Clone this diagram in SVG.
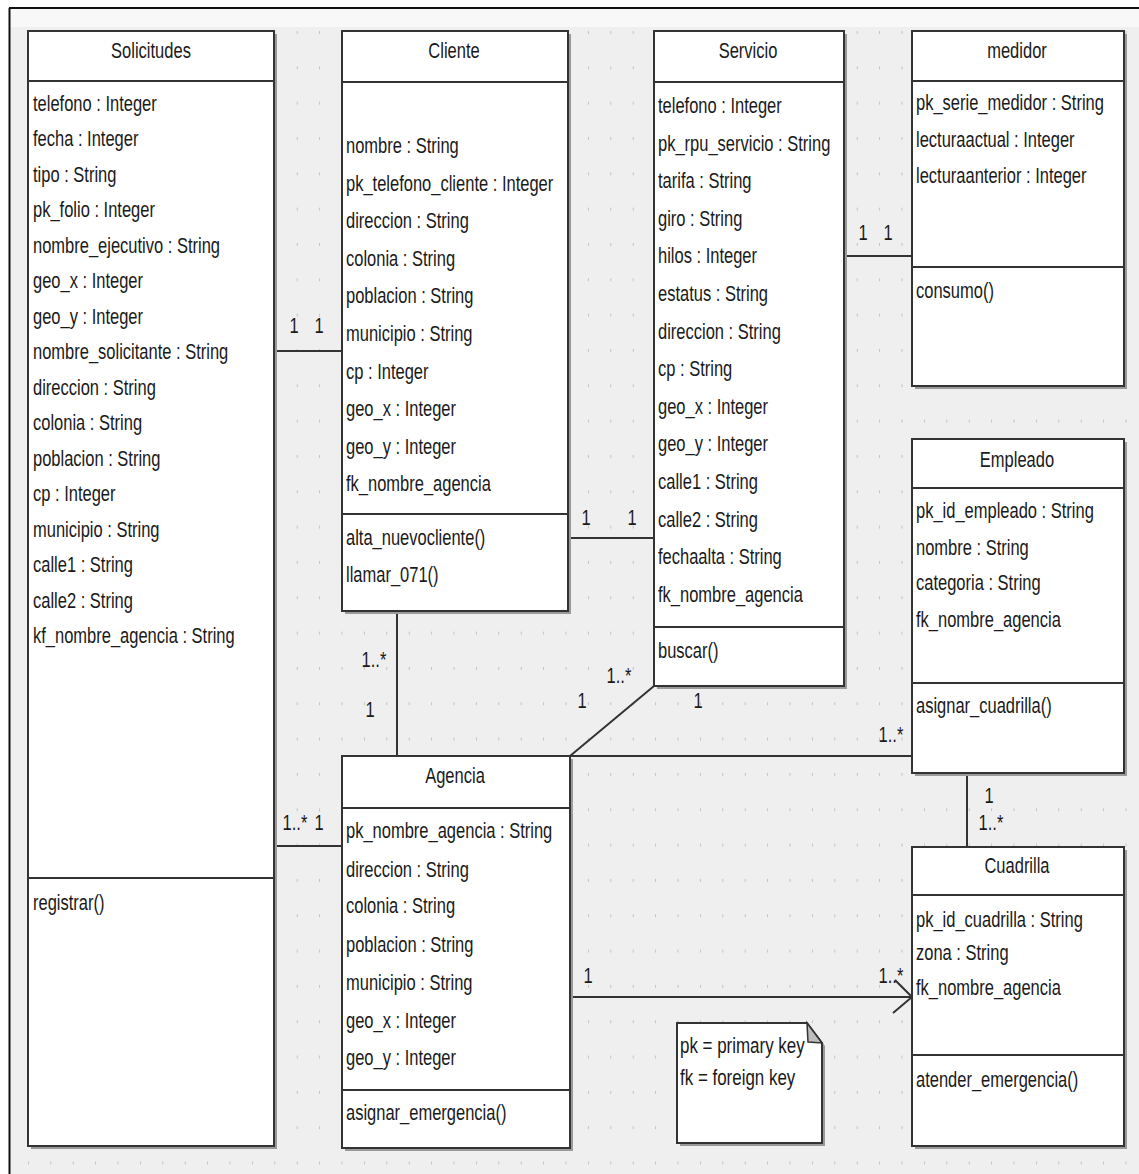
<svg xmlns="http://www.w3.org/2000/svg" width="1139" height="1174" viewBox="0 0 1139 1174">
<style>
text{font-family:"Liberation Sans",Arial,sans-serif;font-size:22px;fill:#1a1a1a}
.box{fill:#fff;stroke:#333;stroke-width:2}
.sh{fill:#9a9a9a}
.sep{stroke:#333;stroke-width:2}
.con{stroke:#333;stroke-width:2;fill:none}
.mid{text-anchor:middle}
</style>
<defs>
<pattern id="grid" x="5.5" y="31" width="22.4" height="35.33" patternUnits="userSpaceOnUse">
<rect x="0" y="0" width="1" height="3" fill="#c2c2c2"/>
</pattern>
</defs>
<rect x="0" y="0" width="1139" height="1174" fill="#fff"/>
<rect x="10" y="9" width="1129" height="1165" fill="#efefef"/>
<rect x="10" y="9" width="1129" height="18" fill="#f8f8f8"/>
<rect x="10" y="27" width="1129" height="1147" fill="url(#grid)"/>
<line x1="9.5" y1="8" x2="9.5" y2="1174" stroke="#111" stroke-width="2"/>
<line x1="9" y1="8" x2="1139" y2="8" stroke="#111" stroke-width="2"/>

<g id="connectors">
<line class="con" x1="274" y1="351" x2="342" y2="351"/>
<line class="con" x1="844" y1="256" x2="912" y2="256"/>
<line class="con" x1="568" y1="538" x2="654" y2="538"/>
<line class="con" x1="397" y1="611" x2="397" y2="756"/>
<line class="con" x1="570" y1="756" x2="654" y2="686"/>
<line class="con" x1="570" y1="756" x2="912" y2="756"/>
<line class="con" x1="967" y1="773" x2="967" y2="847"/>
<line class="con" x1="274" y1="846" x2="342" y2="846"/>
<line class="con" x1="570" y1="997" x2="912" y2="997"/>
<polyline class="con" points="895,980 912,997 893,1013"/>
<g class="mid">
<g transform="translate(294 333) scale(0.75 1)"><text class="mid">1</text></g>
<g transform="translate(319 333) scale(0.75 1)"><text class="mid">1</text></g>
<g transform="translate(863 240) scale(0.75 1)"><text class="mid">1</text></g>
<g transform="translate(888 240) scale(0.75 1)"><text class="mid">1</text></g>
<g transform="translate(586 525) scale(0.75 1)"><text class="mid">1</text></g>
<g transform="translate(632 525) scale(0.75 1)"><text class="mid">1</text></g>
<g transform="translate(374 667) scale(0.75 1)"><text class="mid">1..*</text></g>
<g transform="translate(370 717) scale(0.75 1)"><text class="mid">1</text></g>
<g transform="translate(582 708) scale(0.75 1)"><text class="mid">1</text></g>
<g transform="translate(619 683) scale(0.75 1)"><text class="mid">1..*</text></g>
<g transform="translate(698 708) scale(0.75 1)"><text class="mid">1</text></g>
<g transform="translate(891 742) scale(0.75 1)"><text class="mid">1..*</text></g>
<g transform="translate(989 803) scale(0.75 1)"><text class="mid">1</text></g>
<g transform="translate(991 830) scale(0.75 1)"><text class="mid">1..*</text></g>
<g transform="translate(295 830) scale(0.75 1)"><text class="mid">1..*</text></g>
<g transform="translate(319 830) scale(0.75 1)"><text class="mid">1</text></g>
<g transform="translate(588 983) scale(0.75 1)"><text class="mid">1</text></g>
<g transform="translate(891 983) scale(0.75 1)"><text class="mid">1..*</text></g>
</g>
</g>

<g id="node-solicitudes">
<rect class="sh" x="31" y="34" width="246" height="1115"/>
<rect class="box" x="28" y="31" width="246" height="1115"/>
<line class="sep" x1="28" y1="81" x2="274" y2="81"/>
<line class="sep" x1="28" y1="878" x2="274" y2="878"/>
<g transform="translate(151 58) scale(0.75 1)"><text class="mid">Solicitudes</text></g>
<g transform="translate(33 0) scale(0.75 1)">
<text y="111">telefono : Integer</text>
<text y="146.5">fecha : Integer</text>
<text y="182">tipo : String</text>
<text y="217.4">pk_folio : Integer</text>
<text y="253">nombre_ejecutivo : String</text>
<text y="288.4">geo_x : Integer</text>
<text y="323.8">geo_y : Integer</text>
<text y="359.3">nombre_solicitante : String</text>
<text y="395">direccion : String</text>
<text y="430.2">colonia : String</text>
<text y="465.7">poblacion : String</text>
<text y="501.2">cp : Integer</text>
<text y="536.6">municipio : String</text>
<text y="572">calle1 : String</text>
<text y="607.6">calle2 : String</text>
<text y="643">kf_nombre_agencia : String</text>
<text y="910">registrar()</text>
</g>
</g>

<g id="node-cliente">
<rect class="sh" x="345" y="34" width="226" height="580"/>
<rect class="box" x="342" y="31" width="226" height="580"/>
<line class="sep" x1="342" y1="82" x2="568" y2="82"/>
<line class="sep" x1="342" y1="514" x2="568" y2="514"/>
<g transform="translate(454 58) scale(0.75 1)"><text class="mid">Cliente</text></g>
<g transform="translate(346 0) scale(0.75 1)">
<text y="153">nombre : String</text>
<text y="190.6">pk_telefono_cliente : Integer</text>
<text y="228.2">direccion : String</text>
<text y="265.8">colonia : String</text>
<text y="303.4">poblacion : String</text>
<text y="341">municipio : String</text>
<text y="378.6">cp : Integer</text>
<text y="416.2">geo_x : Integer</text>
<text y="453.8">geo_y : Integer</text>
<text y="491.4">fk_nombre_agencia</text>
<text y="545">alta_nuevocliente()</text>
<text y="582">llamar_071()</text>
</g>
</g>

<g id="node-servicio">
<rect class="sh" x="657" y="34" width="190" height="655"/>
<rect class="box" x="654" y="31" width="190" height="655"/>
<line class="sep" x1="654" y1="82" x2="844" y2="82"/>
<line class="sep" x1="654" y1="627" x2="844" y2="627"/>
<g transform="translate(748 58) scale(0.75 1)"><text class="mid">Servicio</text></g>
<g transform="translate(658 0) scale(0.75 1)">
<text y="113">telefono : Integer</text>
<text y="150.6">pk_rpu_servicio : String</text>
<text y="188.2">tarifa : String</text>
<text y="225.8">giro : String</text>
<text y="263.4">hilos : Integer</text>
<text y="301">estatus : String</text>
<text y="338.6">direccion : String</text>
<text y="376.2">cp : String</text>
<text y="413.8">geo_x : Integer</text>
<text y="451.4">geo_y : Integer</text>
<text y="489">calle1 : String</text>
<text y="526.6">calle2 : String</text>
<text y="564.2">fechaalta : String</text>
<text y="601.8">fk_nombre_agencia</text>
<text y="658">buscar()</text>
</g>
</g>

<g id="node-medidor">
<rect class="sh" x="915" y="34" width="212" height="355"/>
<rect class="box" x="912" y="31" width="212" height="355"/>
<line class="sep" x1="912" y1="81" x2="1124" y2="81"/>
<line class="sep" x1="912" y1="267" x2="1124" y2="267"/>
<g transform="translate(1017 58) scale(0.75 1)"><text class="mid">medidor</text></g>
<g transform="translate(916 0) scale(0.75 1)">
<text y="110">pk_serie_medidor : String</text>
<text y="147">lecturaactual : Integer</text>
<text y="183">lecturaanterior : Integer</text>
<text y="298">consumo()</text>
</g>
</g>

<g id="node-empleado">
<rect class="sh" x="915" y="442" width="212" height="334"/>
<rect class="box" x="912" y="439" width="212" height="334"/>
<line class="sep" x1="912" y1="488" x2="1124" y2="488"/>
<line class="sep" x1="912" y1="683" x2="1124" y2="683"/>
<g transform="translate(1017 467) scale(0.75 1)"><text class="mid">Empleado</text></g>
<g transform="translate(916 0) scale(0.75 1)">
<text y="518">pk_id_empleado : String</text>
<text y="555">nombre : String</text>
<text y="590">categoria : String</text>
<text y="627">fk_nombre_agencia</text>
<text y="713">asignar_cuadrilla()</text>
</g>
</g>

<g id="node-cuadrilla">
<rect class="sh" x="915" y="850" width="212" height="299"/>
<rect class="box" x="912" y="847" width="212" height="299"/>
<line class="sep" x1="912" y1="895" x2="1124" y2="895"/>
<line class="sep" x1="912" y1="1055" x2="1124" y2="1055"/>
<g transform="translate(1017 873) scale(0.75 1)"><text class="mid">Cuadrilla</text></g>
<g transform="translate(916 0) scale(0.75 1)">
<text y="927">pk_id_cuadrilla : String</text>
<text y="960">zona : String</text>
<text y="995">fk_nombre_agencia</text>
<text y="1087">atender_emergencia()</text>
</g>
</g>

<g id="node-agencia">
<rect class="sh" x="345" y="759" width="228" height="392"/>
<rect class="box" x="342" y="756" width="228" height="392"/>
<line class="sep" x1="342" y1="808" x2="570" y2="808"/>
<line class="sep" x1="342" y1="1090" x2="570" y2="1090"/>
<g transform="translate(455 783) scale(0.75 1)"><text class="mid">Agencia</text></g>
<g transform="translate(346 0) scale(0.75 1)">
<text y="838">pk_nombre_agencia : String</text>
<text y="877">direccion : String</text>
<text y="913">colonia : String</text>
<text y="952">poblacion : String</text>
<text y="990">municipio : String</text>
<text y="1028">geo_x : Integer</text>
<text y="1065">geo_y : Integer</text>
<text y="1120">asignar_emergencia()</text>
</g>
</g>

<g id="node-note">
<polygon points="680,1026 810,1026 825,1046 825,1146 680,1146" fill="#9a9a9a"/>
<polygon points="677,1023 807,1023 822,1043 822,1143 677,1143" fill="#fff" stroke="#333" stroke-width="2"/>
<polygon points="807,1023 808,1042 822,1043" fill="#bdbdbd" stroke="#333" stroke-width="1.5"/>
<g transform="translate(680 0) scale(0.77 1)">
<text y="1053">pk = primary key</text>
<text y="1085">fk = foreign key</text>
</g>
</g>
</svg>
